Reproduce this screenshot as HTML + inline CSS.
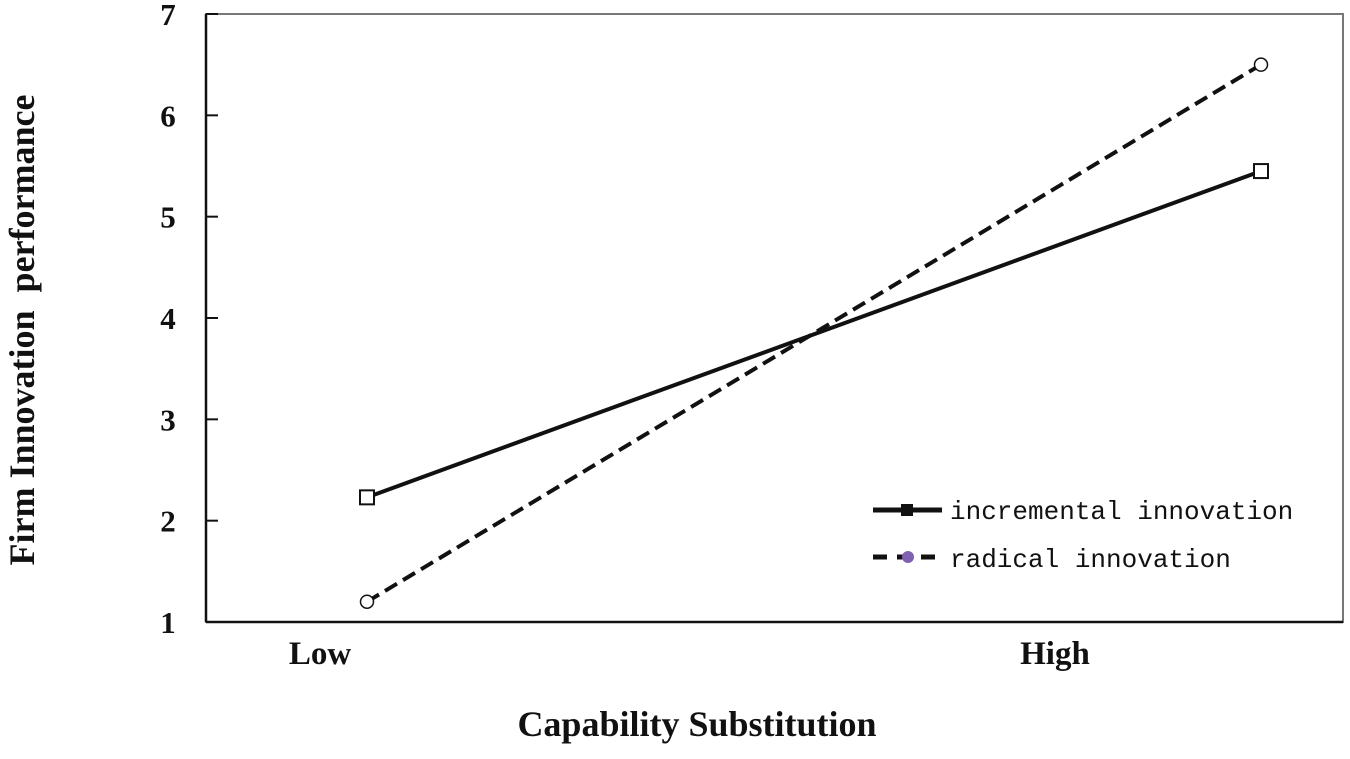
<!DOCTYPE html>
<html><head><meta charset="utf-8"><style>
body{margin:0;background:#fff;width:1350px;height:754px;overflow:hidden}
svg text{font-family:"Liberation Serif",serif;font-weight:bold;fill:#111}
</style></head><body>
<svg id="chart" width="1350" height="754" xmlns="http://www.w3.org/2000/svg"></svg>
<script>
const categories=["Low","High"];
const incremental=[2.23,5.45];
const radical=[1.2,6.5];
const yTicks=[1,2,3,4,5,6,7];
const NS="http://www.w3.org/2000/svg";
const svg=document.getElementById('chart');
const L=206,R=1343,T=14,B=622;
const xPos=[367,1261];
function x(i){return xPos[0]+(xPos[1]-xPos[0])*i/(categories.length-1);}
function y(v){return B-(v-1)/(7-1)*(B-T);}
function mk(tag,a,name){const e=document.createElementNS(NS,tag);for(const k in a)e.setAttribute(k,a[k]);


svg.appendChild(e);return e;}
mk('rect',{x:L,y:T,width:R-L,height:B-T,fill:'none',stroke:'#777','stroke-width':2},'plot-frame');
mk('line',{x1:L,y1:T,x2:L,y2:B,stroke:'#111','stroke-width':2.5},'y-axis');
mk('line',{x1:L,y1:B,x2:R,y2:B,stroke:'#111','stroke-width':2.5},'x-axis');
yTicks.forEach(v=>{mk('line',{x1:L,y1:y(v),x2:L+12,y2:y(v),stroke:'#111','stroke-width':2},'y-tick');
const t=mk('text',{x:168,y:y(v)+11,'font-size':31,'text-anchor':'middle'},'y-tick-label');t.textContent=v;});
categories.forEach((c,i)=>{const t=mk('text',{x:[320,1055][i],y:664,'font-size':33,'text-anchor':'middle'},'x-tick-label');t.textContent=c;});
const xt=mk('text',{x:697,y:736,'font-size':36,'text-anchor':'middle'},'x-axis-title');xt.textContent='Capability Substitution';
const yt=mk('text',{x:34,y:330,'font-size':36,'text-anchor':'middle',transform:'rotate(-90 34 330)',style:'white-space:pre'},'y-axis-title');yt.textContent='Firm Innovation  performance';
mk('line',{x1:x(0),y1:y(incremental[0]),x2:x(1),y2:y(incremental[1]),stroke:'#111','stroke-width':4},'incremental-line');
mk('line',{x1:x(0),y1:y(radical[0]),x2:x(1),y2:y(radical[1]),stroke:'#111','stroke-width':4,'stroke-dasharray':'14 7'},'radical-line');
incremental.forEach((v,i)=>mk('rect',{x:x(i)-7,y:y(v)-7,width:14,height:14,fill:'#fff',stroke:'#111','stroke-width':2},'incremental-point'));
radical.forEach((v,i)=>mk('circle',{cx:x(i),cy:y(v),r:6.5,fill:'#fff',stroke:'#111','stroke-width':1.5},'radical-point'));
mk('line',{x1:873,y1:510,x2:942,y2:510,stroke:'#111','stroke-width':5},'legend-incremental-line');
mk('rect',{x:901,y:504,width:12,height:12,fill:'#111'},'legend-incremental-marker');
mk('line',{x1:873,y1:557,x2:937,y2:557,stroke:'#111','stroke-width':5,'stroke-dasharray':'14 10'},'legend-radical-line');
mk('circle',{cx:908,cy:557,r:6,fill:'#8060b0'},'legend-radical-marker');
[['incremental innovation',519],['radical innovation',567]].forEach(([s,yy])=>{const t=mk('text',{x:950,y:yy,'font-size':26,style:'font-family:"Liberation Mono",monospace;font-weight:normal'},'legend-entry');t.textContent=s;});
</script>
</body></html>
